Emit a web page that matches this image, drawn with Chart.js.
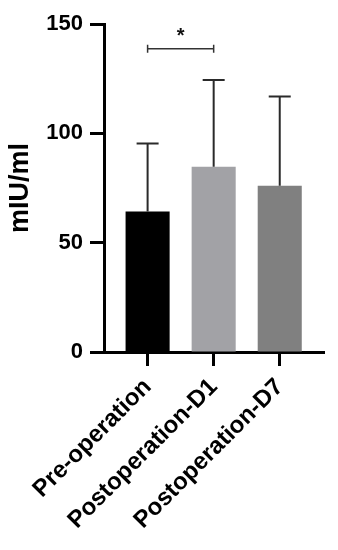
<!DOCTYPE html>
<html>
<head>
<meta charset="utf-8">
<script src="https://cdn.jsdelivr.net/npm/chart.js@4.4.0/dist/chart.umd.min.js"></script>
<style>
  html, body { margin: 0; padding: 0; background: #fff; }
  #wrap { width: 338px; height: 550px; position: relative; }
</style>
</head>
<body>
<div id="wrap"><canvas id="chart1"></canvas></div>
<script>
var categories = ["Pre-operation", "Postoperation-D1", "Postoperation-D7"];
var means = [64.2, 84.7, 76.0];
var sds = [31.2, 39.7, 40.9];
var barColors = ['#000000', '#a2a2a6', '#808080'];
var yTicks = [0, 50, 100, 150];
// significance bracket: between group 0 and 1, at this height
var sigPair = [0, 1];
var sigLevel = 138.7;
var sigText = '*';

var font = 'Liberation Sans, Arial, Helvetica, sans-serif';

var errorBars = {
    id: 'errorBars',
    afterDatasetsDraw: function(chart) {
        var ctx = chart.ctx;
        var xs = chart.scales.x, ys = chart.scales.y;
        ctx.save();
        ctx.strokeStyle = '#2a2a2a';
        ctx.lineWidth = 2;
        for (var i = 0; i < means.length; i++) {
            var x = xs.getPixelForValue(i);
            var yMean = ys.getPixelForValue(means[i]);
            var yTop = ys.getPixelForValue(means[i] + sds[i]);
            ctx.beginPath();
            ctx.moveTo(x, yMean);
            ctx.lineTo(x, yTop);
            ctx.moveTo(x - 11, yTop);
            ctx.lineTo(x + 11, yTop);
            ctx.stroke();
        }
        // significance bracket
        var x1 = xs.getPixelForValue(sigPair[0]);
        var x2 = xs.getPixelForValue(sigPair[1]);
        var yS = ys.getPixelForValue(sigLevel);
        ctx.lineWidth = 1.5;
        ctx.strokeStyle = '#333';
        ctx.beginPath();
        ctx.moveTo(x1, yS);
        ctx.lineTo(x2, yS);
        ctx.moveTo(x1, yS - 4);
        ctx.lineTo(x1, yS + 4);
        ctx.moveTo(x2, yS - 4);
        ctx.lineTo(x2, yS + 4);
        ctx.stroke();
        ctx.fillStyle = '#111';
        ctx.font = 'bold 20px ' + font;
        ctx.textAlign = 'center';
        ctx.textBaseline = 'middle';
        ctx.fillText(sigText, (x1 + x2) / 2, yS - 12);
        ctx.restore();
    }
};

var ctx1 = document.getElementById('chart1').getContext('2d');
var myChart1 = new Chart(ctx1, {
    type: 'bar',
    data: {
        datasets: [{
            data: categories.map(function(c, i) { return {x: i, y: means[i]}; }),
            backgroundColor: barColors,
            borderWidth: 0,
            barPercentage: 0.667,
            categoryPercentage: 1
        }]
    },
    options: {
        responsive: true,
        maintainAspectRatio: false,
        animation: false,
        layout: {
            padding: {left: 0, right: 14, top: 24, bottom: 0}
        },
        scales: {
            x: {
                type: 'linear',
                offset: false,
                min: -0.66,
                max: 2.67,
                afterFit: function(scale) { scale.height = 198; },
                afterBuildTicks: function(scale) {
                    scale.ticks = categories.map(function(c, i) { return {value: i}; });
                },
                ticks: {
                    callback: function(value) { return categories[value]; },
                    minRotation: 45,
                    maxRotation: 45,
                    autoSkip: false,
                    padding: 7,
                    color: '#000',
                    font: {family: font, size: 24, weight: 'bold'}
                },
                grid: {
                    offset: false,
                    drawOnChartArea: false,
                    drawTicks: true,
                    tickLength: 14,
                    tickWidth: 3,
                    tickColor: '#000'
                },
                border: {display: true, color: '#000', width: 3}
            },
            y: {
                min: 0,
                max: 150,
                afterFit: function(scale) { scale.width = 104; },
                afterBuildTicks: function(scale) {
                    scale.ticks = yTicks.map(function(v) { return {value: v}; });
                },
                ticks: {
                    padding: 7,
                    color: '#000',
                    font: {family: font, size: 22, weight: 'bold'}
                },
                grid: {
                    drawOnChartArea: false,
                    drawTicks: true,
                    tickLength: 14,
                    tickWidth: 3,
                    tickColor: '#000'
                },
                border: {display: true, color: '#000', width: 3},
                title: {
                    display: true,
                    text: 'mIU/ml',
                    color: '#000',
                    padding: {top: 4, bottom: 0},
                    font: {family: font, size: 27, weight: 'bold'}
                }
            }
        },
        plugins: {
            legend: {display: false},
            tooltip: {enabled: false}
        }
    },
    plugins: [errorBars]
});
</script>
</body>
</html>
